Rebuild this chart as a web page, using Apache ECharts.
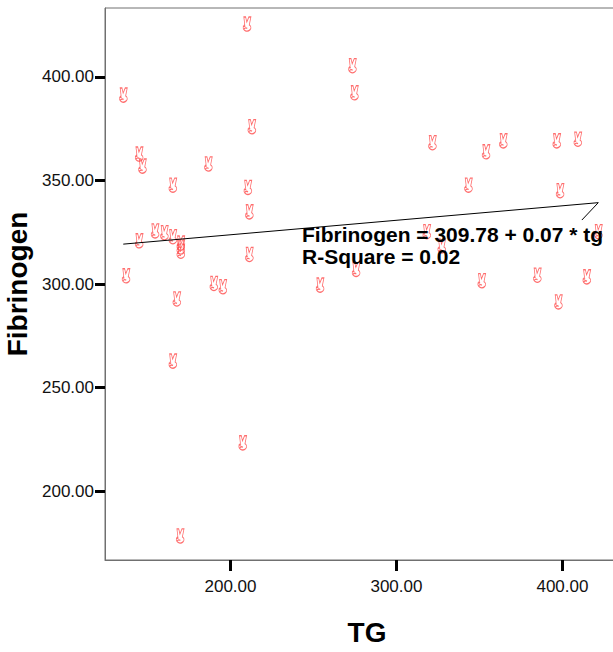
<!DOCTYPE html>
<html>
<head>
<meta charset="utf-8">
<title>Fibrinogen vs TG</title>
<script src="https://cdn.jsdelivr.net/npm/echarts@6/dist/echarts.min.js"></script>
<style>
  html, body { margin: 0; padding: 0; background: #fff; }
  #chart { width: 613px; height: 652px; }
</style>
</head>
<body>
<div id="chart"></div>
<script>
// Observations: triglycerides (TG) against fibrinogen
const tg = [
  209.9, 135.4, 273.4, 274.6, 212.8, 144.9, 146.9, 186.6, 165.2, 210.4,
  211.3, 211.3, 144.9, 154.5, 160.1, 165.2, 170.0, 170.0, 170.0, 137.0,
  189.9, 195.3, 167.6, 165.2, 207.3, 169.6, 321.6, 364.3, 353.9, 396.5,
  409.2, 343.3, 398.5, 318.2, 327.2, 275.6, 253.9, 351.3, 384.8, 414.6,
  397.5, 421.6
];
const fibrinogen = [
  425.6, 391.3, 405.5, 392.4, 376.0, 362.8, 357.0, 358.0, 347.8, 346.7,
  334.9, 314.3, 320.9, 325.7, 324.8, 322.9, 319.8, 317.9, 315.9, 304.0,
  300.3, 298.7, 292.8, 262.8, 223.3, 178.3, 368.3, 369.2, 363.9, 369.2,
  370.0, 347.8, 345.1, 325.3, 318.4, 307.1, 299.5, 301.6, 304.3, 303.5,
  291.4, 325.3
];

// Tick labels
const xTicks = [200, 300, 400];
const yTicks = [200, 250, 300, 350, 400];

// Fitted linear model
const intercept = 309.78;
const slope = 0.07;
const rSquare = 0.02;

// End of the short leader stroke that runs from the fit line toward its label
const leaderEnd = [411.7, 330.9];

const points = tg.map((v, i) => [v, fibrinogen[i]]);
const xFirst = Math.min(...tg);
const xLast = Math.max(...tg);
const fitLine = [
  [xFirst, intercept + slope * xFirst],
  [xLast, intercept + slope * xLast]
];
const leader = [fitLine[1], leaderEnd];

// Hand-shaped marker glyph (two raised fingers over a round palm), outline only
const handSymbol = 'path://M2.4,0 L4,0 L5,5.2 L6.8,0 L8.6,0 L7.2,8 A3.4,3.4 0 1 1 2.6,8.6 L3.2,7.6 Z M2.6,12 Q4,10.4 5.4,11.6 M1.6,9.6 L3.8,9.2';

const chart = echarts.init(document.getElementById('chart'), null, { renderer: 'svg' });

const fontFamily = '"Liberation Sans", Arial, sans-serif';

chart.setOption({
  animation: false,
  backgroundColor: '#ffffff',
  grid: {
    left: 105, top: 8, width: 524, height: 552,
    outerBoundsMode: 'none',
    containLabel: false,
    show: true, borderColor: '#707070', borderWidth: 1, backgroundColor: '#ffffff'
  },
  xAxis: {
    type: 'value',
    min: 124.4, max: 440.1,
    name: 'TG',
    nameLocation: 'middle',
    nameGap: 58,
    nameTextStyle: { fontFamily, fontSize: 28, fontWeight: 'bold', color: '#000' },
    splitLine: { show: false },
    axisLine: { show: true, lineStyle: { color: '#707070', width: 1 } },
    axisTick: { show: true, customValues: xTicks, length: 11, lineStyle: { color: '#000', width: 3 } },
    axisLabel: {
      customValues: xTicks, margin: 18,
      fontFamily, fontSize: 17, color: '#111',
      formatter: v => v.toFixed(2)
    }
  },
  yAxis: {
    type: 'value',
    min: 166.67, max: 433.33,
    name: 'Fibrinogen',
    nameLocation: 'middle',
    nameGap: 70,
    nameRotate: 90,
    nameTextStyle: { fontFamily, fontSize: 28, fontWeight: 'bold', color: '#000' },
    splitLine: { show: false },
    axisLine: { show: true, lineStyle: { color: '#707070', width: 1 } },
    axisTick: { show: true, customValues: yTicks, length: 10, lineStyle: { color: '#000', width: 3 } },
    axisLabel: {
      customValues: yTicks, margin: 11,
      fontFamily, fontSize: 17, color: '#111',
      formatter: v => v.toFixed(2)
    }
  },
  series: [
    {
      type: 'scatter',
      data: points,
      symbol: handSymbol,
      symbolSize: [8, 14],
      itemStyle: { color: 'rgba(255,255,255,0)', borderColor: '#ff4848', borderWidth: 1 },
      z: 2
    },
    {
      type: 'line',
      data: fitLine,
      symbol: 'none',
      lineStyle: { color: '#000', width: 1 },
      silent: true,
      z: 3
    },
    {
      type: 'line',
      data: leader,
      symbol: 'none',
      lineStyle: { color: '#000', width: 1 },
      silent: true,
      z: 3
    }
  ],
  graphic: [
    {
      type: 'text',
      left: 302, top: 223,
      z: 10,
      style: {
        text: 'Fibrinogen = ' + intercept.toFixed(2) + ' + ' + slope.toFixed(2) + ' * tg\nR-Square = ' + rSquare.toFixed(2),
        font: 'bold 21px ' + fontFamily,
        lineHeight: 22,
        fill: '#000'
      }
    }
  ]
});
</script>
</body>
</html>
